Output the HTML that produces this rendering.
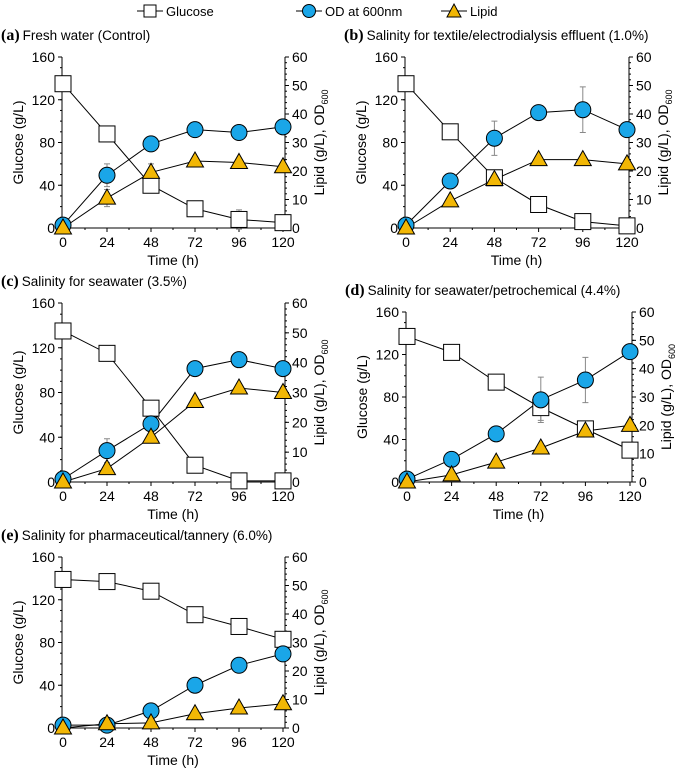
<!DOCTYPE html>
<html><head><meta charset="utf-8"><style>
body{margin:0;background:#fff;}
svg{font-family:"Liberation Sans",Arial,sans-serif;}
</style></head><body>
<svg id="c" width="685" height="770" viewBox="0 0 685 770" xmlns="http://www.w3.org/2000/svg">
<g>
 <line x1="137" y1="11" x2="163" y2="11" stroke="#000" stroke-width="1"/>
 <rect x="144" y="5" width="12" height="12" fill="#fff" stroke="#000"/>
 <text x="166" y="16" font-size="13">Glucose</text>
 <line x1="296" y1="11" x2="322" y2="11" stroke="#000"/>
 <circle cx="309" cy="11" r="6.5" fill="#1AA6E8" stroke="#000"/>
 <text x="325" y="16" font-size="13">OD at 600nm</text>
 <line x1="441" y1="11" x2="467" y2="11" stroke="#000"/>
 <polygon points="454,4 461,17 447,17" fill="#F2B705" stroke="#000"/>
 <text x="470" y="16" font-size="13">Lipid</text>
</g>
</svg>
<script>
const times=[0,24,48,72,96,120];
const glucoseA=[135,88,40,18,8,5];
const odA=[1,18.5,29.5,34.5,33.5,35.5];
const lipidA=[0,10.5,19.5,23.5,23,21.5];
const glucoseB=[135,90,47,22,6,2];
const odB=[1,16.5,31.5,40.5,41.5,34.5];
const lipidB=[0,9.5,17,24,24,22.5];
const glucoseC=[135,115,66,15,1,1];
const odC=[1,10.5,19.5,38,41,38];
const lipidC=[0,4.5,15,27,31.5,30];
const glucoseD=[137,122,94,70,50,30];
const odD=[1,8,17,29,36,46];
const lipidD=[0,2.5,7,12,18,20];
const glucoseE=[139,137,128,106,95,83];
const odE=[1,1,6,15,22,26];
const lipidE=[0,1.5,1.8,5,7,8.5];
// error bar half-widths (right axis units for OD/lipid, left for glucose)
const odErrA=[0,4,0,0,0,0];const lipidErrA=[0,3,3,0,0,0];const glucoseErrA=[0,0,0,0,9,0];
const odErrB=[0,0,6,0,8,0];const lipidErrB=[0,0,0,0,0,0];const glucoseErrB=[0,0,0,0,0,0];
const odErrC=[0,4,0,0,0,0];const lipidErrC=[0,0,0,0,0,0];const glucoseErrC=[0,0,0,0,0,0];
const odErrD=[0,0,0,8,8,0];const lipidErrD=[0,0,0,0,0,0];const glucoseErrD=[0,0,0,12,0,0];
const odErrE=[0,0,0,0,0,0];const lipidErrE=[0,0,0,0,0,0];const glucoseErrE=[0,0,0,0,0,0];
const leftTicks=[0,40,80,120,160];
const rightTicks=[0,10,20,30,40,50,60];
const xTicks=[0,24,48,72,96,120];
const titles=[["(a)","Fresh water (Control)"],["(b)","Salinity for textile/electrodialysis effluent (1.0%)"],["(c)","Salinity for seawater (3.5%)"],["(d)","Salinity for seawater/petrochemical (4.4%)"],["(e)","Salinity for pharmaceutical/tannery (6.0%)"]];
const panels=[
 {id:"a",x0:63,x1:283,yT:57,yB:228,g:glucoseA,o:odA,l:lipidA,ge:glucoseErrA,oe:odErrA,le:lipidErrA},
 {id:"b",x0:406,x1:627,yT:57,yB:228,g:glucoseB,o:odB,l:lipidB,ge:glucoseErrB,oe:odErrB,le:lipidErrB},
 {id:"c",x0:63,x1:283,yT:303,yB:482,g:glucoseC,o:odC,l:lipidC,ge:glucoseErrC,oe:odErrC,le:lipidErrC},
 {id:"d",x0:407,x1:630,yT:312,yB:482,g:glucoseD,o:odD,l:lipidD,ge:glucoseErrD,oe:odErrD,le:lipidErrD},
 {id:"e",x0:63,x1:283,yT:557,yB:728,g:glucoseE,o:odE,l:lipidE,ge:glucoseErrE,oe:odErrE,le:lipidErrE}];
const NS="http://www.w3.org/2000/svg";
const svg=document.getElementById('c');
function mk(tag,attrs,parent,txt){const e=document.createElementNS(NS,tag);for(const k in attrs)e.setAttribute(k,attrs[k]);if(txt!==undefined)e.textContent=txt;parent.appendChild(e);return e;}
panels.forEach((p,pi)=>{
 const g=mk('g',{},svg);
 
 
 const X=t=>p.x0+(p.x1-p.x0)*t/120;
 const YL=v=>p.yB-(p.yB-p.yT)*v/160;
 const YR=v=>p.yB-(p.yB-p.yT)*v/60;
 const axL=p.x0-1, axR=p.x1+2;
 const tt=mk('text',{x:p.x0-63+1,y:p.yT-17,'font-size':13.5},g);
 
 
 mk('tspan',{'font-family':'Liberation Serif,serif','font-weight':'bold','font-size':16},tt,titles[pi][0]);
 mk('tspan',{dx:3},tt,titles[pi][1]);
 mk('line',{x1:axL,y1:p.yT,x2:axL,y2:p.yB,stroke:'#000'},g);
 mk('line',{x1:axR,y1:p.yT,x2:axR,y2:p.yB,stroke:'#000'},g);
 mk('line',{x1:axL,y1:p.yB,x2:axR,y2:p.yB,stroke:'#000'},g);
 leftTicks.forEach(v=>{const y=YL(v);mk('line',{x1:axL-4,y1:y,x2:axL,y2:y,stroke:'#000'},g);
  const t=mk('text',{x:axL-7,y:y+5,'font-size':14,'text-anchor':'end'},g,v);
  });
 for(let v=0;v<=160;v+=10){const y=YL(v);mk('line',{x1:axL-2,y1:y,x2:axL,y2:y,stroke:'#000'},g);}
 rightTicks.forEach(v=>{const y=YR(v);mk('line',{x1:axR,y1:y,x2:axR+4,y2:y,stroke:'#000'},g);
  const t=mk('text',{x:axR+7,y:y+5,'font-size':14},g,v);
  });
 for(let v=0;v<=60;v+=2){const y=YR(v);mk('line',{x1:axR,y1:y,x2:axR+2,y2:y,stroke:'#000'},g);}
 xTicks.forEach(v=>{const x=X(v);mk('line',{x1:x,y1:p.yB,x2:x,y2:p.yB+4,stroke:'#000'},g);
  const t=mk('text',{x:x,y:p.yB+19,'font-size':14,'text-anchor':'middle'},g,v);
  });
 for(let v=12;v<120;v+=24){const x=X(v);mk('line',{x1:x,y1:p.yB,x2:x,y2:p.yB+2,stroke:'#000'},g);}
 const xt=mk('text',{x:(p.x0+p.x1)/2,y:p.yB+37,'font-size':14,'text-anchor':'middle'},g,'Time (h)');
 
 const ym=(p.yT+p.yB)/2;
 const yl=mk('text',{x:axL-39,y:ym,'font-size':14,'text-anchor':'middle',transform:`rotate(-90 ${axL-39} ${ym})`},g,'Glucose (g/L)');
 
 const yr=mk('text',{x:axR+39,y:ym,'font-size':14,'text-anchor':'middle',transform:`rotate(-90 ${axR+39} ${ym})`},g);
 
 mk('tspan',{},yr,'Lipid (g/L), OD');mk('tspan',{'font-size':9,dy:4},yr,'600');
 const line=(arr,f)=>mk('polyline',{points:arr.map((v,i)=>X(times[i])+','+f(v)).join(' '),fill:'none',stroke:'#000','stroke-width':1},g);
 line(p.g,YL);line(p.o,YR);line(p.l,YR);
 const err=(vals,errs,f)=>vals.forEach((v,i)=>{if(!errs[i])return;const x=X(times[i]);const y1=f(v+errs[i]),y2=f(v-errs[i]);
  const e=mk('path',{d:`M${x},${y1}V${y2}M${x-3},${y1}H${x+3}M${x-3},${y2}H${x+3}`,stroke:'#888',fill:'none'},g);
  });
 err(p.g,p.ge,YL);err(p.o,p.oe,YR);err(p.l,p.le,YR);
 p.g.forEach((v,i)=>{const r=mk('rect',{x:X(times[i])-8,y:YL(v)-8,width:16,height:16,fill:'#fff',stroke:'#000'},g);
  });
 p.o.forEach((v,i)=>{const c=mk('circle',{cx:X(times[i]),cy:YR(v),r:8,fill:'#1AA6E8',stroke:'#000'},g);
  });
 p.l.forEach((v,i)=>{const x=X(times[i]),y=YR(v);const t=mk('polygon',{points:`${x},${y-9} ${x+8.5},${y+6} ${x-8.5},${y+6}`,fill:'#F2B705',stroke:'#000'},g);
  });
});
</script>
</body></html>
